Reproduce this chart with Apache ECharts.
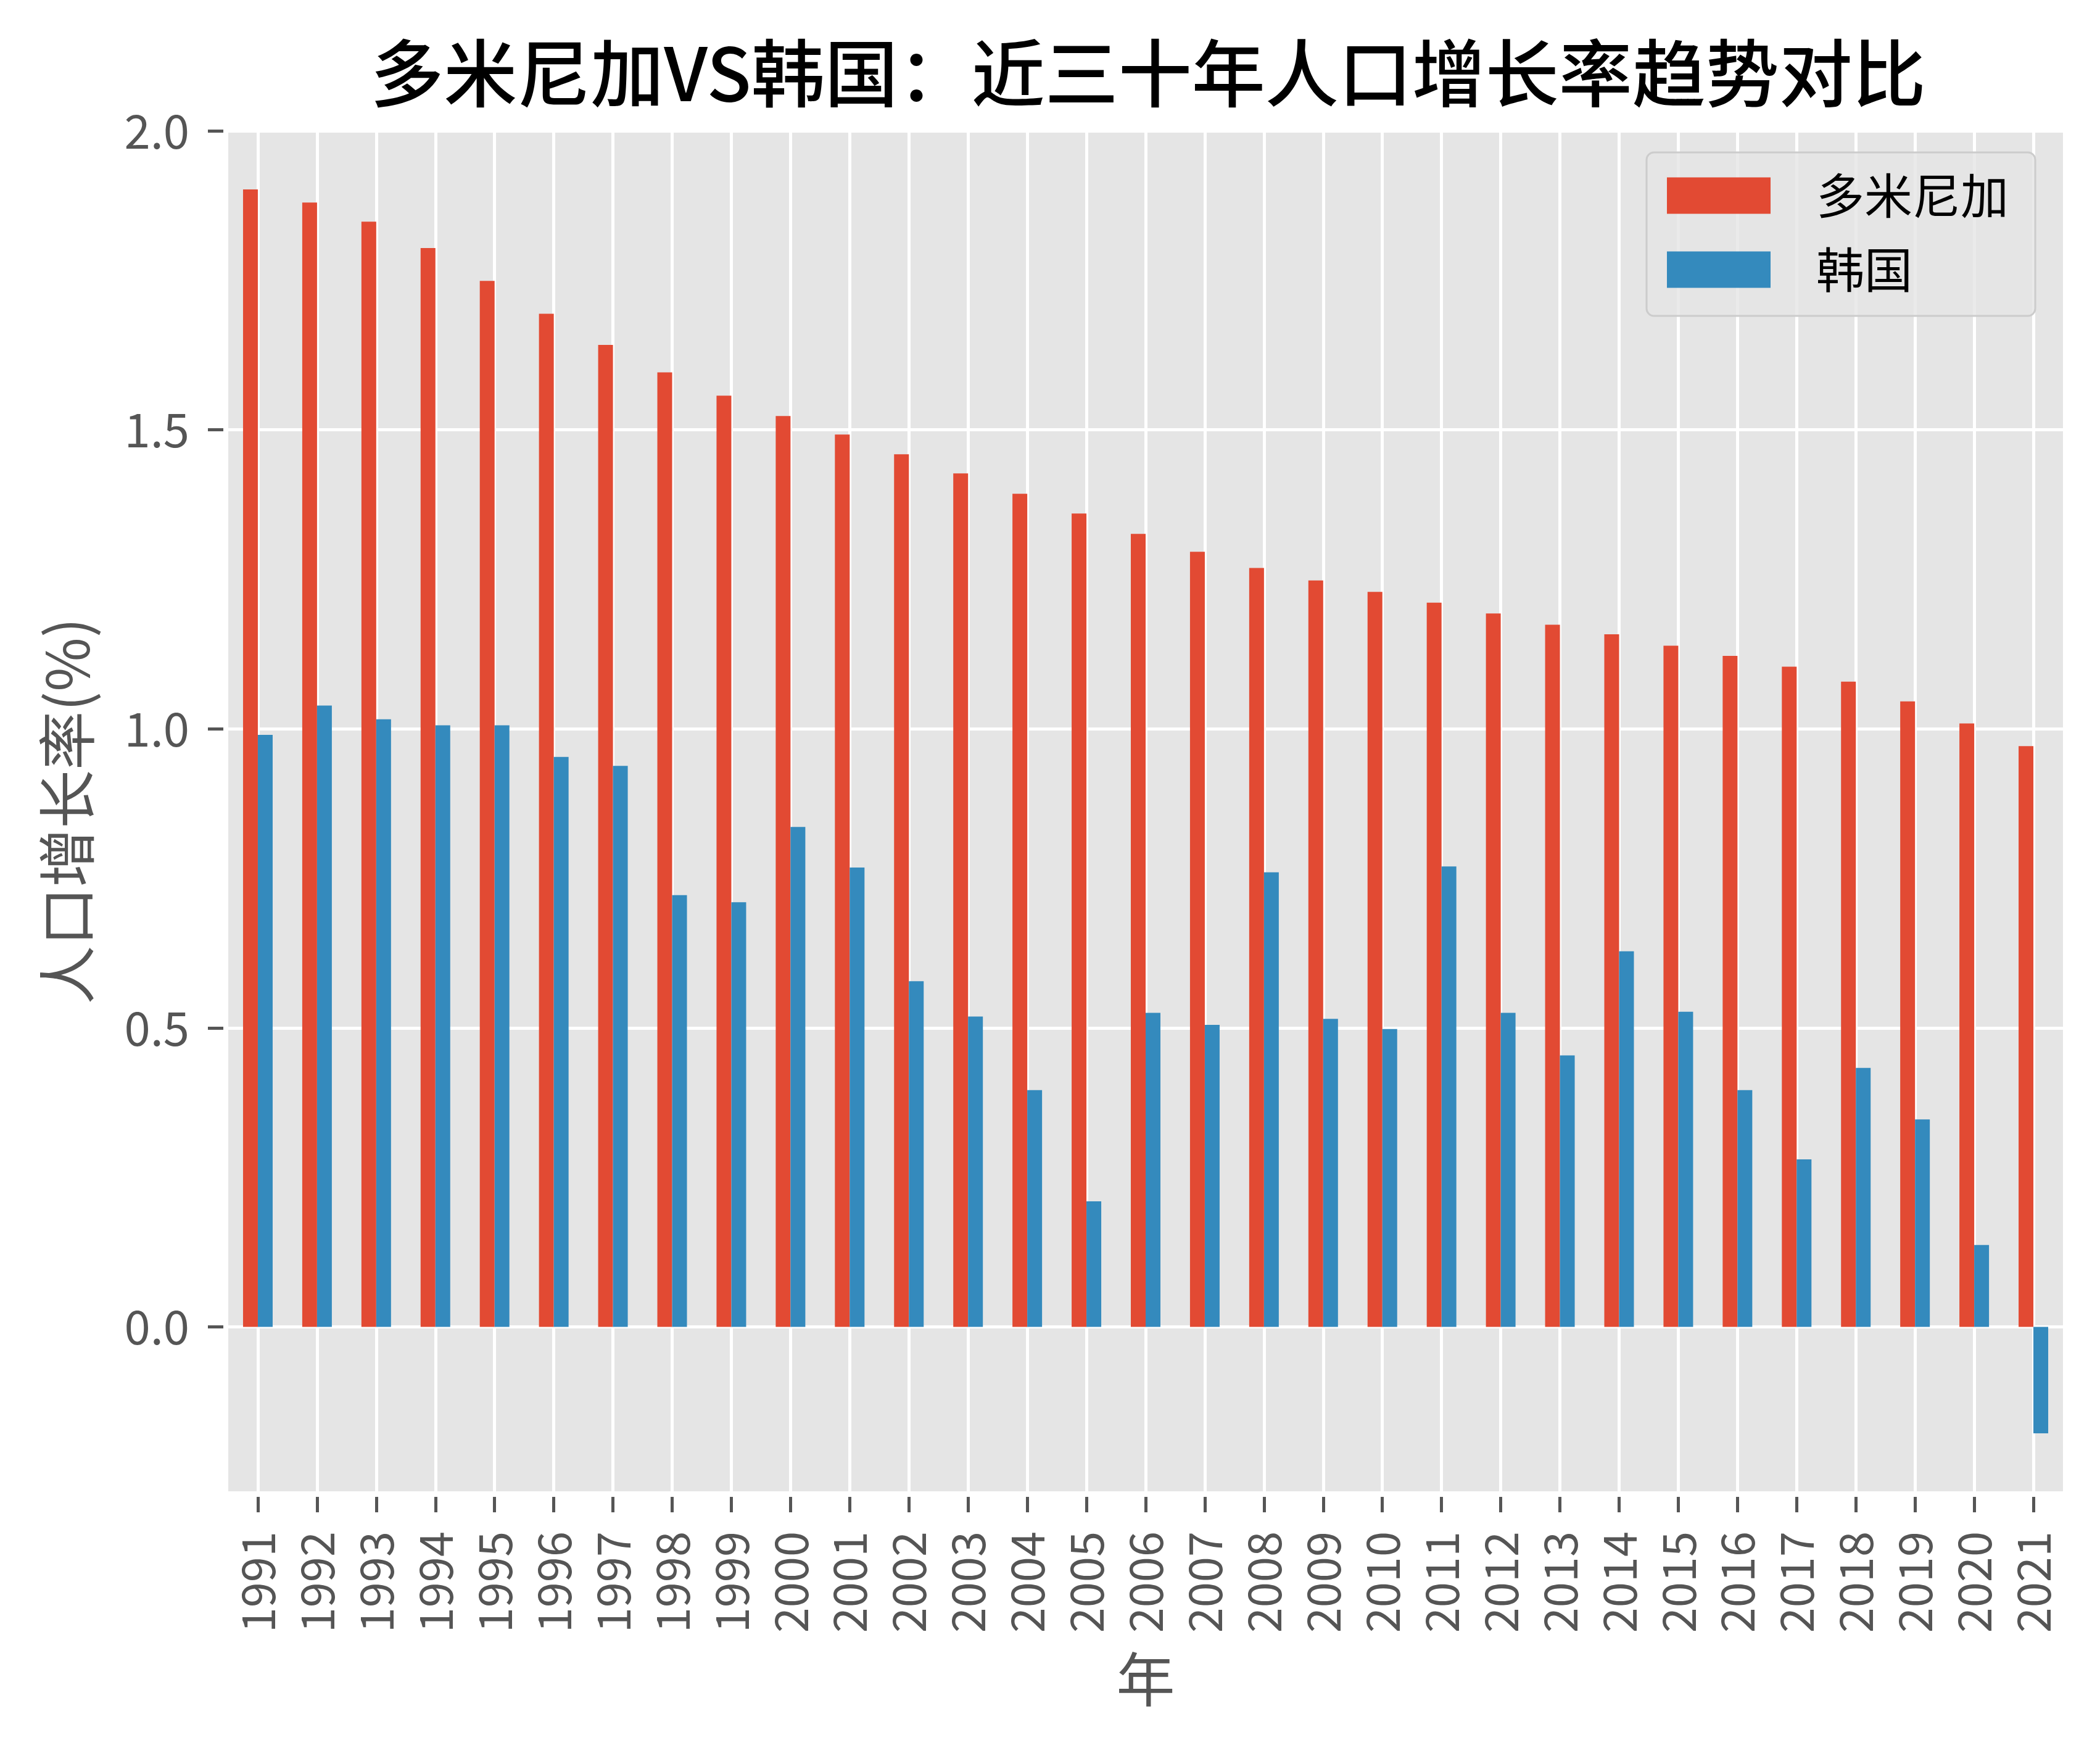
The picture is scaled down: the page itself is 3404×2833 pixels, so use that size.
<!DOCTYPE html>
<html>
<head>
<meta charset="utf-8">
<script src="https://cdn.jsdelivr.net/npm/echarts@6/dist/echarts.min.js"></script>
<style>
html,body{margin:0;padding:0;background:#fff;}
#chart{width:3404px;height:2833px;}
</style>
</head>
<body>
<div id="chart"></div>
<script>
const years = ['1991','1992','1993','1994','1995','1996','1997','1998','1999','2000','2001','2002','2003','2004','2005','2006','2007','2008','2009','2010','2011','2012','2013','2014','2015','2016','2017','2018','2019','2020','2021'];
const dominica = [1.902,1.880,1.848,1.804,1.749,1.694,1.642,1.596,1.557,1.523,1.492,1.459,1.427,1.393,1.360,1.326,1.296,1.269,1.248,1.229,1.211,1.193,1.174,1.158,1.139,1.122,1.104,1.079,1.046,1.009,0.971];
const korea = [0.990,1.039,1.016,1.006,1.006,0.953,0.938,0.722,0.710,0.836,0.768,0.578,0.519,0.396,0.210,0.525,0.505,0.760,0.515,0.498,0.770,0.525,0.454,0.628,0.527,0.396,0.280,0.433,0.347,0.137,-0.178];
const yTicks = [0, 0.5, 1.0, 1.5, 2.0];
const seriesNames = ['多米尼加', '韩国'];
const titleText = '多米尼加VS韩国：近三十年人口增长率趋势对比';
const xName = '年';
const yName = '人口增长率(%)';

const FONT = '"Noto Sans CJK SC", "Noto Sans", sans-serif';
const chart = echarts.init(document.getElementById('chart'), null, {renderer: 'canvas'});
chart.setOption({
  backgroundColor: '#ffffff',
  animation: false,
  color: ['#E24A33', '#348ABD'],
  title: {
    text: titleText,
    left: 1856,
    top: 50,
    textAlign: 'center',
    textStyle: {fontFamily: FONT, fontSize: 119, fontWeight: 500, color: '#000000', lineHeight: 128}
  },
  legend: {
    data: seriesNames,
    orient: 'vertical',
    left: 2669,
    top: 247,
    padding: [31, 43, 36, 33],
    itemWidth: 168,
    itemHeight: 59,
    itemGap: 42,
    backgroundColor: 'rgba(229,229,229,0.8)',
    borderColor: '#CCCCCC',
    borderWidth: 3,
    borderRadius: 12,
    icon: 'rect',
    textStyle: {fontFamily: FONT, fontSize: 78, color: '#000000', padding: [0, 0, 0, 69]}
  },
  grid: {left: 370, top: 212, width: 2974, height: 2205, show: true, backgroundColor: '#E5E5E5', borderWidth: 0},
  xAxis: {
    type: 'category',
    data: years,
    offset: 9,
    name: xName,
    nameLocation: 'middle',
    nameGap: 248,
    nameTextStyle: {fontFamily: FONT, fontSize: 95, color: '#555555'},
    axisLine: {show: false, onZero: false},
    axisTick: {show: true, alignWithLabel: true, length: 25, lineStyle: {color: '#555555', width: 5}},
    axisLabel: {rotate: 90, margin: 56, interval: 0, fontFamily: FONT, fontSize: 74, color: '#555555'},
    splitLine: {show: true, alignWithLabel: true, lineStyle: {color: '#FFFFFF', width: 5}}
  },
  yAxis: {
    type: 'value',
    min: -0.275,
    max: 2.0,
    offset: 8,
    name: yName,
    nameLocation: 'middle',
    nameGap: 206,
    nameRotate: 90,
    nameTextStyle: {fontFamily: FONT, fontSize: 95, color: '#555555'},
    axisLine: {show: false},
    axisTick: {show: true, length: 25, customValues: yTicks, lineStyle: {color: '#555555', width: 5}},
    axisLabel: {margin: 55, customValues: yTicks, fontFamily: FONT, fontSize: 76, color: '#555555',
      formatter: v => v.toFixed(1)},
    splitLine: {show: true, lineStyle: {color: '#FFFFFF', width: 5}}
  },
  series: [
    {name: seriesNames[0], type: 'bar', data: dominica, barWidth: 24, barGap: '0%', itemStyle: {color: '#E24A33'}},
    {name: seriesNames[1], type: 'bar', data: korea, barWidth: 24, barGap: '0%', itemStyle: {color: '#348ABD'}}
  ]
});
</script>
</body>
</html>
